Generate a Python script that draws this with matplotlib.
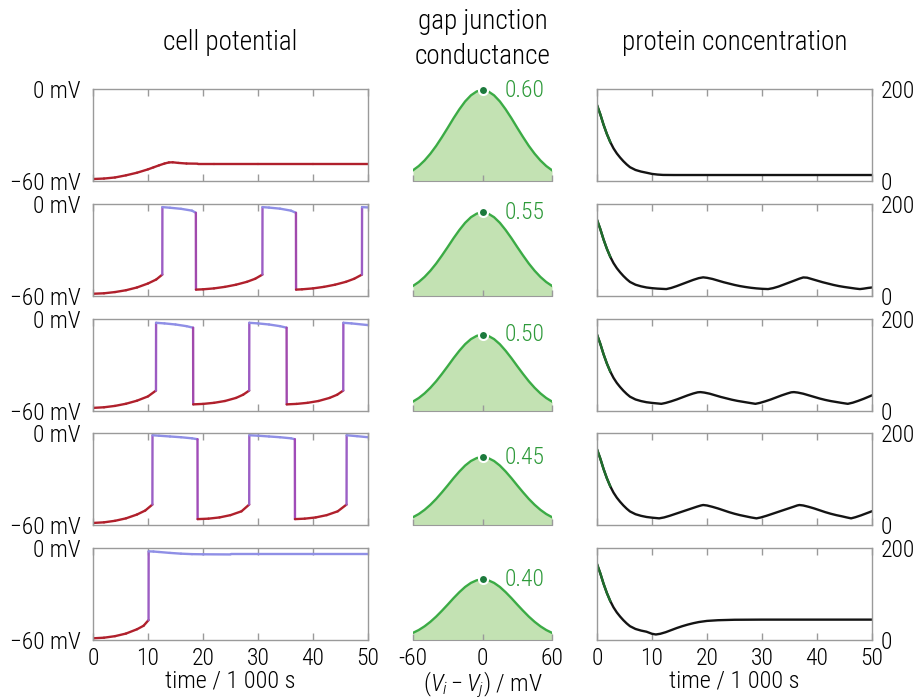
import matplotlib
matplotlib.use("Agg")
import matplotlib.pyplot as plt
from matplotlib import font_manager
from matplotlib.collections import LineCollection
from matplotlib.colors import LinearSegmentedColormap, Normalize
import numpy as np

# ---------------------------------------------------------------- data
conductance = [0.60, 0.55, 0.50, 0.45, 0.40]

# gap junction conductance profile (relative to its peak) vs. (Vi - Vj)
gap_v = [-60, -55, -50, -45, -40, -35, -30, -25, -20, -15, -10, -5, 0,
         5, 10, 15, 20, 25, 30, 35, 40, 45, 50, 55, 60]
gap_shape = [0.118, 0.165, 0.226, 0.300, 0.386, 0.483, 0.585, 0.690, 0.788, 0.875, 0.942, 0.985, 1.0,
             0.985, 0.942, 0.875, 0.788, 0.690, 0.585, 0.483, 0.386, 0.300, 0.226, 0.165, 0.118]

# cell potential (mV) vs. time (1000 s)
cell_t_060 = [0, 2, 4, 6, 8, 10, 11, 12, 13, 13.8, 14.5, 15.5, 17, 19, 22, 30, 40, 50]
cell_v_060 = [-58.7, -58.4, -57.7, -56.3, -54.6, -52.4, -51.1, -49.8, -48.6, -47.9, -47.8, -48.2,
              -48.6, -48.7, -48.7, -48.7, -48.7, -48.7]

cell_t_055 = [0, 2, 4, 6, 8, 10, 11.5, 12.6, 12.62, 14, 16, 18, 18.7, 18.72, 20, 22, 24, 26, 28,
              29.5, 30.8, 30.82, 32, 34, 36, 36.9, 36.92, 38, 40, 42, 44, 46, 47.5, 48.9, 48.92, 50]
cell_v_055 = [-58.7, -58.4, -57.6, -56.4, -54.6, -52.0, -49.4, -46.2, -2.2, -2.6, -3.3, -4.5, -5.9,
              -56.0, -55.8, -55.2, -54.2, -52.8, -50.9, -48.9, -46.2, -2.2, -2.5, -3.2, -4.5, -5.9,
              -56.0, -55.8, -55.2, -54.2, -52.8, -50.9, -48.9, -46.2, -2.2, -2.4]

cell_t_050 = [0, 2, 4, 6, 8, 10, 11.45, 11.47, 13, 15, 17, 18.2, 18.22, 20, 22, 24, 26, 27.3, 28.4,
              28.42, 30, 32, 34, 35.2, 35.22, 37, 39, 41, 43, 44.4, 45.5, 45.52, 47, 50]
cell_v_050 = [-58.3, -57.9, -57.0, -55.6, -53.6, -50.8, -47.0, -2.8, -3.2, -3.9, -5.0, -6.0, -56.0,
              -55.7, -55.0, -53.8, -51.8, -49.7, -47.0, -2.8, -3.2, -3.9, -5.0, -6.0, -56.0, -55.7,
              -55.0, -53.8, -51.8, -49.7, -47.0, -2.8, -3.2, -4.3]

cell_t_045 = [0, 2, 4, 6, 8, 9.5, 10.8, 10.82, 12, 14, 16, 18, 19.0, 19.02, 21, 23, 25, 27, 28.4,
              28.42, 30, 32, 34, 36, 36.7, 36.72, 38.5, 40.5, 42.5, 44.5, 46.1, 46.12, 48, 50]
cell_v_045 = [-58.5, -58.1, -57.1, -55.5, -53.0, -50.4, -46.5, -1.3, -1.6, -2.1, -2.6, -3.3, -3.9,
              -56.0, -55.7, -54.9, -53.4, -50.9, -46.5, -1.3, -1.6, -2.1, -2.6, -3.3, -3.9, -56.0,
              -55.7, -54.9, -53.4, -50.9, -46.5, -1.3, -1.9, -2.6]

cell_t_040 = [0, 2, 4, 6, 8, 9.2, 10.1, 10.12, 11, 12, 14, 16, 18, 20, 25, 30, 40, 50]
cell_v_040 = [-58.9, -58.5, -57.5, -55.8, -53.0, -50.7, -47.0, -2.2, -2.3, -2.6, -3.2, -3.7, -4.0,
              -4.1, -4.2, -4.2, -4.2, -4.2]

# protein concentration vs. time (1000 s); all runs share the initial decay
protein_start_t = [0, 0.6, 1.2, 1.8, 2.4, 3, 3.6, 4.2, 4.8, 5.4, 6, 7, 8, 9]
protein_start = [165, 145, 122, 102, 85, 71, 60, 51, 43, 36, 30, 24, 20.5, 18]

protein_t_060 = [10, 11, 12, 14, 20, 50]
protein_060 = [15.4, 14, 13.2, 13, 13, 13]

protein_t_055 = [10, 11, 12.6, 13.5, 14.5, 15.5, 16.5, 17.5, 18.5, 19.3, 20, 21, 22, 23, 24, 25, 26,
                 27, 28, 29, 30, 31.1, 32, 33, 34, 35, 36, 36.8, 37.5, 38.2, 39, 40, 41, 42, 43,
                 44, 45, 46, 47, 47.8, 48.5, 49.3, 50]
protein_055 = [16.5, 15.5, 14.5, 17, 21, 25.5, 30, 34.5, 38.3, 40, 39, 36.5, 33, 29.5, 26.5, 23.5,
               21, 19, 17.3, 16, 15.1, 14.5, 16.5, 20, 24.5, 29, 33.5, 37.2, 39.8, 39.3, 36.5, 33,
               29.5, 26.5, 23.5, 21, 19, 17.3, 15.6, 14.5, 15.5, 17, 18]

protein_t_050 = [10, 11.7, 12.5, 13.5, 14.5, 15.5, 16.5, 17.5, 18.3, 18.8, 19.5, 20.5, 21.5, 22.5,
                 23.5, 24.5, 25.5, 26.5, 27.5, 28.8, 29.6, 30.6, 31.6, 32.6, 33.6, 34.6, 35.3,
                 35.8, 36.5, 37.5, 38.5, 39.5, 40.5, 41.5, 42.5, 43.5, 44.5, 45.6, 46.5, 47.5,
                 48.5, 49.5, 50]
protein_050 = [16.5, 14.5, 16.5, 20, 24, 28.5, 33, 37, 39.5, 40, 39, 36.5, 33, 29.5, 26.5, 23.5,
               21, 19, 17, 14.5, 16.5, 20, 24, 28.5, 33, 37, 39.5, 40, 39, 36.5, 33, 29.5, 26,
               23, 20.5, 18.5, 16.5, 14.5, 17, 21, 25.5, 30.5, 33]

protein_t_045 = [10, 11.3, 12.2, 13.2, 14.2, 15.2, 16.2, 17.2, 18.2, 18.9, 19.3, 20, 21, 22, 23,
                 24, 25, 26, 27, 28, 29, 29.8, 30.8, 31.8, 32.8, 33.8, 34.8, 35.8, 36.4, 36.8,
                 37.5, 38.5, 39.5, 40.5, 41.5, 42.5, 43.5, 44.5, 45.4, 46.2, 47, 48, 49, 50]
protein_045 = [16.5, 15, 17, 20.5, 24.5, 28.5, 32.5, 36.5, 40.5, 43, 44, 43, 40, 36.5, 32.5, 28.5,
               25, 22, 19.5, 17, 15, 17, 20.5, 24.5, 28.5, 32.5, 36.5, 40.5, 43, 44, 43, 40,
               36.5, 32.5, 28.5, 25, 22, 19.5, 17, 15, 17.5, 21.5, 26, 30.5]

protein_t_040 = [10, 10.7, 11.5, 12.5, 13.5, 14.5, 15.5, 16.5, 17.5, 18.5, 20, 22, 25, 30, 50]
protein_040 = [13.5, 12, 13.5, 17, 21.5, 26, 30, 33.5, 36.5, 39, 41.5, 43, 44, 44.3, 44.3]

time_ticks = [0, 10, 20, 30, 40, 50]
gap_ticks = [-60, 0, 60]

cell_runs = [(cell_t_060, cell_v_060), (cell_t_055, cell_v_055), (cell_t_050, cell_v_050),
             (cell_t_045, cell_v_045), (cell_t_040, cell_v_040)]
protein_runs = [(protein_t_060, protein_060), (protein_t_055, protein_055),
                (protein_t_050, protein_050), (protein_t_045, protein_045),
                (protein_t_040, protein_040)]

# ---------------------------------------------------------------- style
available = {f.name for f in font_manager.fontManager.ttflist}
FAMILY = [f for f in ["Liberation Sans Narrow", "Roboto Condensed"] if f in available] + ["DejaVu Sans"]
plt.rcParams["font.family"] = FAMILY
plt.rcParams["font.weight"] = "light"
plt.rcParams["axes.labelweight"] = "light"
plt.rcParams["mathtext.fontset"] = "custom"
plt.rcParams["mathtext.rm"] = FAMILY[0] + ":light"
plt.rcParams["mathtext.it"] = FAMILY[0] + ":italic:light"

FRAME = "#9a9a9a"
RED = "#b0202c"
PURPLE = "#a04cb8"
LAVENDER = "#8f8fe6"
PROTEIN = "#141414"
PROTEIN_START = "#1f6e2c"
GAP_LINE = "#3bab45"
GAP_FILL = "#c3e2b3"
GAP_DOT = "#1c7a3c"
GAP_TEXT = "#2e9a3a"

TICK_FS = 17
LABEL_FS = 17.5
TITLE_FS = 19.5

voltage_cmap = LinearSegmentedColormap.from_list(
    "voltage", [(0.0, RED), (0.27, RED), (0.5, PURPLE), (0.87, LAVENDER), (1.0, LAVENDER)])
voltage_norm = Normalize(-60, 0)

W, H = 915, 699
fig = plt.figure(figsize=(W / 100, H / 100), dpi=100)


def box(x0, top, w, h):
    return [x0 / W, 1 - (top + h) / H, w / W, h / H]


def frame(ax):
    for sp in ax.spines.values():
        sp.set_color(FRAME)
        sp.set_linewidth(1.0)


ROW_H = 92
tops = [89 + 114.75 * i for i in range(5)]

for i, g in enumerate(conductance):
    last = i == len(conductance) - 1
    top = tops[i]

    # --- cell potential
    ax = fig.add_axes(box(93, top, 275, ROW_H))
    t, v = cell_runs[i]
    pts = np.column_stack([t, v])
    segs = np.stack([pts[:-1], pts[1:]], axis=1)
    mids = (np.asarray(v[:-1]) + np.asarray(v[1:])) / 2
    lc = LineCollection(segs, colors=voltage_cmap(voltage_norm(mids)), linewidth=1.7,
                        capstyle="round", joinstyle="round")
    ax.add_collection(lc)
    ax.set_xlim(0, 50)
    ax.set_ylim(-60, 0)
    frame(ax)
    ax.set_xticks(time_ticks)
    ax.set_yticks([-60, 0])
    ax.set_yticklabels(["\u221260 mV", "0 mV"])
    ax.tick_params(axis="x", direction="in", length=5, width=1, color=FRAME, top=True,
                   bottom=True, labelbottom=last, labelsize=TICK_FS, pad=5)
    ax.tick_params(axis="y", length=0, labelsize=TICK_FS, pad=9)
    if last:
        ax.set_xlabel("time / 1 000 s", fontsize=LABEL_FS, fontweight="light", labelpad=0)

    # --- gap junction conductance
    ax = fig.add_axes(box(413, top, 139, ROW_H))
    gy = np.asarray(gap_shape) * g
    ax.fill_between(gap_v, 0, gy, color=GAP_FILL, linewidth=0)
    ax.plot(gap_v, gy, color=GAP_LINE, linewidth=1.7)
    ax.plot([0], [g], "o", color=GAP_DOT, markersize=6.5, markeredgecolor="white",
            markeredgewidth=1.5, clip_on=False, zorder=5)
    ax.text(19, g, f"{g:.2f}", color=GAP_TEXT, fontsize=TICK_FS, ha="left", va="center")
    ax.set_xlim(-60, 60)
    ax.set_ylim(0, 0.607)
    for side in ("left", "right", "top"):
        ax.spines[side].set_visible(False)
    ax.spines["bottom"].set_color(FRAME)
    ax.set_yticks([])
    ax.set_xticks(gap_ticks)
    ax.set_xticklabels([str(x) for x in gap_ticks])
    ax.tick_params(axis="x", direction="in", length=4, width=1, color=FRAME,
                   labelbottom=last, labelsize=TICK_FS, pad=5)
    ax.patch.set_visible(False)
    if last:
        ax.set_xlabel(r"$(V_i - V_j)$ / mV", fontsize=LABEL_FS, fontweight="light", labelpad=0)

    # --- protein concentration
    ax = fig.add_axes(box(597, top, 275, ROW_H))
    pt = protein_start_t + protein_runs[i][0]
    pv = protein_start + protein_runs[i][1]
    ax.plot(pt, pv, color=PROTEIN, linewidth=1.7)
    ax.plot(pt[:5], pv[:5], color=PROTEIN_START, linewidth=1.7)
    ax.set_xlim(0, 50)
    ax.set_ylim(0, 200)
    frame(ax)
    ax.set_xticks(time_ticks)
    ax.set_yticks([0, 200])
    ax.yaxis.tick_right()
    ax.tick_params(axis="x", direction="in", length=5, width=1, color=FRAME, top=True,
                   bottom=True, labelbottom=last, labelsize=TICK_FS, pad=5)
    ax.tick_params(axis="y", length=0, labelsize=TICK_FS, pad=6)
    if last:
        ax.set_xlabel("time / 1 000 s", fontsize=LABEL_FS, fontweight="light", labelpad=0)

# column headings
fig.text(230.5 / W, 1 - 42 / H, "cell potential", fontsize=TITLE_FS, ha="center", va="center")
fig.text(482.5 / W, 1 - 39 / H, "gap junction\nconductance", fontsize=TITLE_FS, ha="center",
         va="center", linespacing=1.4)
fig.text(734.5 / W, 1 - 42 / H, "protein concentration", fontsize=TITLE_FS, ha="center",
         va="center")

fig.savefig("out.png", dpi=100)
